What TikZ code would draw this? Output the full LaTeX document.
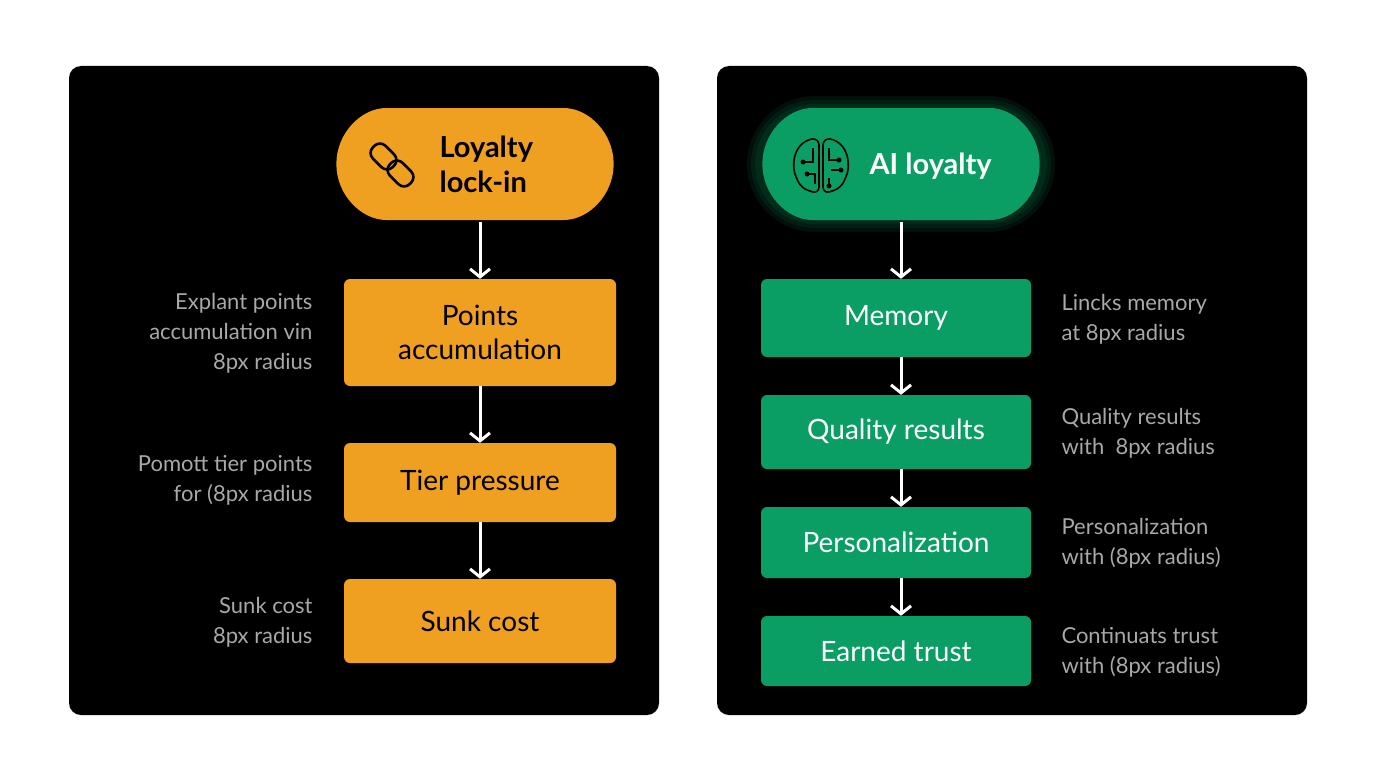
\documentclass[tikz,border=0pt]{standalone}
\usepackage{fontspec}
\setmainfont{Lato}
\usetikzlibrary{positioning,arrows.meta,shapes.misc}
\definecolor{loyorange}{HTML}{F0A020}
\definecolor{aigreen}{HTML}{0A9E64}
\definecolor{sidegray}{HTML}{A8A8A8}
\tikzset{>={Straight Barb[length=8pt,width=20pt,line width=3pt]}}
\tikzset{
  panel/.style={fill=black, rounded corners=12pt},
  orbox/.style={fill=loyorange, rounded corners=6pt, minimum width=272pt, align=center, font=\fontsize{28}{34}\selectfont, text=black},
  grbox/.style={fill=aigreen, rounded corners=6pt, minimum width=270pt, align=center, font=\fontsize{28}{34}\selectfont, text=white},
  side/.style={text=sidegray, font=\fontsize{22}{30}\selectfont},
  flow/.style={->, draw=white, line width=3pt},
}
\begin{document}
\begin{tikzpicture}[x=1pt,y=-1pt]
\useasboundingbox[fill=white] (0,0) rectangle (1376,768);
\fill[panel] (69,66) rectangle (659,715);
\fill[panel] (717,66) rectangle (1307,715);

% left column
\node[orbox, rounded rectangle, minimum width=284pt, minimum height=112pt] (lock) at (475,164) {};
\node[font=\bfseries\fontsize{29}{35}\selectfont, align=left, anchor=west] (locktxt) at (436,164) {Loyalty\\lock-in};
\begin{scope}[shift={(392,165)}, rotate=-45, line width=2.6pt]
  \draw[rounded corners=8pt] (-26,-9) rectangle (2,9);
  \draw[rounded corners=8pt] (-2,-9) rectangle (26,9);
\end{scope}
\node[orbox, minimum height=107pt] (points) at (480,332.5) {Points\\accumulation};
\node[orbox, minimum height=79pt] (tier) at (480,482.5) {Tier pressure};
\node[orbox, minimum height=84pt] (sunk) at (480,621) {Sunk cost};

\node[side, align=right, anchor=east] (lbl1) at (316,333) {Explant points\\accumulation vin\\8px radius};
\node[side, align=right, anchor=east] (lbl2) at (316,480) {Pomott tier points\\for (8px radius};
\node[side, align=right, anchor=east] (lbl3) at (316,622) {Sunk cost\\8px radius};

\coordinate (a0) at (480,222);
\draw[flow] (a0) -- (points.north);
\draw[flow] (points) -- (tier);
\draw[flow] (tier) -- (sunk);

% right column
\foreach \g in {12,8,4}
  \fill[aigreen, opacity=0.10, rounded corners=56pt+\g pt] (759-\g,108-\g) rectangle (1043+\g,220+\g);
\node[grbox, rounded rectangle, minimum width=284pt, minimum height=112pt] (ai) at (901,164) {};
\node[font=\bfseries\fontsize{29}{35}\selectfont, text=white, anchor=west] (aitxt) at (866,166) {AI loyalty};
\begin{scope}[shift={(821,166)}, line width=1.6pt, draw=black]
  \draw[rounded corners=7pt] (-2,-28) -- (-16,-26) -- (-26,-14) -- (-28,4) -- (-20,22) -- (-2,28) -- cycle;
  \draw[rounded corners=7pt] (2,-28) -- (16,-26) -- (26,-14) -- (28,4) -- (20,22) -- (2,28) -- cycle;
  \draw (-8,-18) -- (-8,-4) -- (-18,-4);
  \draw (-14,8) -- (-6,8) -- (-6,18);
  \draw (8,-18) -- (8,-6) -- (18,-6);
  \draw (10,4) -- (20,4);
  \draw (8,12) -- (8,20);
  \foreach \p in {(18,-6),(20,4),(8,20),(-18,-4),(-14,8)} \fill \p circle (2.5pt);
\end{scope}
\node[grbox, minimum height=78pt] (memory) at (896,318) {Memory};
\node[grbox, minimum height=74pt] (quality) at (896,432) {Quality results};
\node[grbox, minimum height=71pt] (person) at (896,542.5) {Personalization};
\node[grbox, minimum height=70pt] (trust) at (896,651) {Earned trust};

\node[side, align=left, anchor=west] (rl1) at (1058,319) {Lincks memory\\at 8px radius};
\node[side, align=left, anchor=west] (rl2) at (1058,433) {Quality results\\with\ \ 8px radius};
\node[side, align=left, anchor=west] (rl3) at (1058,543) {Personalization\\with (8px radius)};
\node[side, align=left, anchor=west] (rl4) at (1058,652) {Continuats trust\\with (8px radius)};

\coordinate (b0) at (901,222);
\draw[flow] (b0) -- (b0 |- memory.north);
\draw[flow] (memory.south -| b0) -- (quality.north -| b0);
\draw[flow] (quality.south -| b0) -- (person.north -| b0);
\draw[flow] (person.south -| b0) -- (trust.north -| b0);
\end{tikzpicture}
\end{document}
